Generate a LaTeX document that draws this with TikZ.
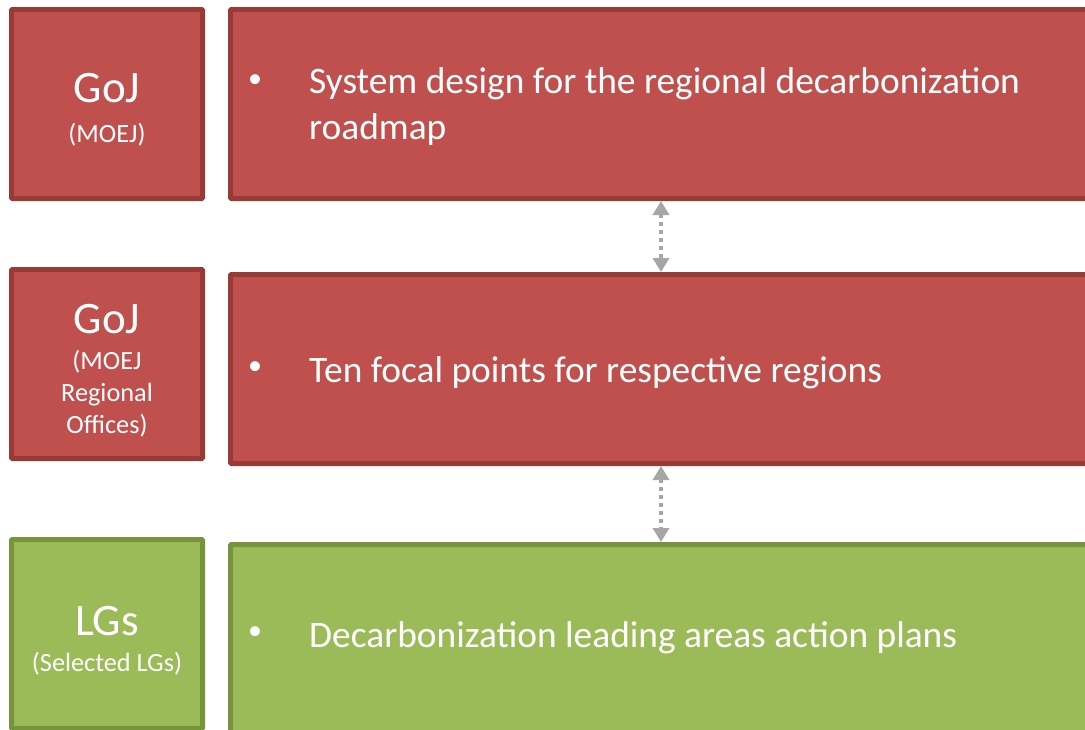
\documentclass[tikz,border=0pt]{standalone}
\usepackage{fontspec}
\setmainfont{Carlito}
\usetikzlibrary{arrows.meta}
\definecolor{redfill}{HTML}{C0504D}
\definecolor{redline}{HTML}{9A3A37}
\definecolor{greenfill}{HTML}{9BBB59}
\definecolor{greenline}{HTML}{77933C}
\definecolor{linkgray}{HTML}{A6A6A6}
\tikzset{
  panel/.style={draw, rectangle, line width=5pt, inner sep=0pt, rounded corners=1pt},
  redpanel/.style={panel, fill=redfill, draw=redline},
  greenpanel/.style={panel, fill=greenfill, draw=greenline},
  headbig/.style={anchor=base, text=white, inner sep=0pt, font=\fontsize{45}{45}\selectfont},
  headsmall/.style={anchor=base, text=white, inner sep=0pt, font=\fontsize{26.3}{26}\selectfont},
  bodytext/.style={anchor=base west, text=white, inner sep=0pt, font=\fontsize{37.4}{37}\selectfont},
  bulletmark/.style={anchor=center, text=white, inner sep=0pt, font=\fontsize{28}{28}\selectfont},
  link/.style={draw=linkgray, line width=4pt, dash pattern=on 4pt off 4pt,
    {Triangle[width=16pt,length=14pt]}-{Triangle[width=16pt,length=14pt]}}
}
\begin{document}
\begin{tikzpicture}[x=1pt,y=-1pt]
\useasboundingbox (0,0) rectangle (1085,729);
\clip (0,0) rectangle (1085,729);

% row 1: national level
\node[redpanel, minimum width=191pt, minimum height=189pt] (l1) at (107,104) {};
\node[redpanel, minimum width=869.5pt, minimum height=189pt] (r1) at (665.25,104) {};
% row 2: regional offices
\node[redpanel, minimum width=191pt, minimum height=189pt] (l2) at (107,364) {};
\node[redpanel, minimum width=869.5pt, minimum height=189pt] (r2) at (665.25,369) {};
% row 3: local governments
\node[greenpanel, minimum width=191pt, minimum height=189pt] (l3) at (107,634) {};
\node[greenpanel, minimum width=869.5pt, minimum height=189pt] (r3) at (665.25,639) {};

% labels of the left column
\node[headbig] (h1) at (107,102) {GoJ};
\node[headsmall] (h1a) at (107,142) {(MOEJ)};
\node[headbig] (h2) at (107,333) {GoJ};
\node[headsmall] (h2a) at (107,369) {(MOEJ};
\node[headsmall] (h2b) at (107,401) {Regional};
\node[headsmall] (h2c) at (107,433) {Offices)};
\node[headbig] (h3) at (107,635) {LGs};
\node[headsmall] (h3a) at (107,671) {(Selected LGs)};

% bullet texts of the right column
\node[bulletmark] (b1) at (255,81) {•};
\node[bodytext] (t1) at (309,93) {System design for the regional decarbonization};
\node[bodytext] (t1b) at (309,139) {roadmap};
\node[bulletmark] (b2) at (255,368) {•};
\node[bodytext] (t2) at (309,382) {Ten focal points for respective regions};
\node[bulletmark] (b3) at (255,633) {•};
\node[bodytext] (t3) at (309,647) {Decarbonization leading areas action plans};

% dotted two-way links between the levels
\coordinate (lx) at (661,0);
\draw[link] (lx |- r1.south) -- (lx |- r2.north);
\draw[link] (lx |- r2.south) -- (lx |- r3.north);
\end{tikzpicture}
\end{document}
